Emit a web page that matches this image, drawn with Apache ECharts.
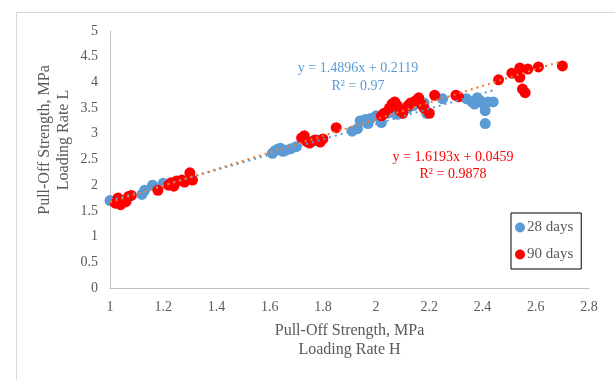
<!DOCTYPE html>
<html>
<head>
<meta charset="utf-8">
<script src="https://cdn.jsdelivr.net/npm/echarts@6/dist/echarts.min.js"></script>
<style>
  html, body { margin: 0; padding: 0; background: #fff; }
  #chart { width: 615px; height: 380px; }
</style>
</head>
<body>
<div id="chart"></div>
<script>
// 28 days: [Loading Rate H, Loading Rate L]
const days28 = [
  [1.00, 1.70], [1.12, 1.82], [1.13, 1.90], [1.16, 2.00], [1.20, 2.04], [1.22, 2.02], [1.24, 2.00],
  [1.61, 2.62], [1.62, 2.67], [1.63, 2.70], [1.64, 2.72], [1.65, 2.66], [1.66, 2.68], [1.68, 2.71],
  [1.70, 2.75], [1.76, 2.85], [1.78, 2.88],
  [1.91, 3.05], [1.93, 3.10], [1.94, 3.25], [1.96, 3.28], [1.97, 3.20], [1.98, 3.30], [2.00, 3.35],
  [2.02, 3.22], [2.04, 3.40], [2.06, 3.42], [2.08, 3.38], [2.12, 3.50], [2.14, 3.55], [2.18, 3.60],
  [2.19, 3.40], [2.25, 3.68],
  [2.34, 3.68], [2.36, 3.62], [2.37, 3.58], [2.38, 3.70], [2.39, 3.65], [2.40, 3.60], [2.42, 3.62],
  [2.44, 3.62], [2.41, 3.45], [2.41, 3.20]
];

// 90 days
const days90 = [
  [1.02, 1.65], [1.03, 1.75], [1.04, 1.62], [1.05, 1.70], [1.06, 1.68], [1.07, 1.78], [1.08, 1.80],
  [1.18, 1.90], [1.22, 2.00], [1.23, 2.05], [1.24, 1.98], [1.25, 2.08], [1.27, 2.10], [1.28, 2.06],
  [1.30, 2.24], [1.31, 2.10],
  [1.72, 2.92], [1.73, 2.96], [1.74, 2.85], [1.75, 2.82], [1.77, 2.88], [1.79, 2.84], [1.80, 2.90],
  [1.85, 3.12],
  [2.02, 3.35], [2.03, 3.40], [2.05, 3.50], [2.06, 3.58], [2.07, 3.62], [2.08, 3.55], [2.09, 3.45],
  [2.10, 3.40], [2.12, 3.55], [2.13, 3.60], [2.15, 3.65], [2.16, 3.70], [2.17, 3.58], [2.18, 3.50],
  [2.20, 3.40], [2.22, 3.75], [2.30, 3.75],
  [2.31, 3.72], [2.46, 4.05], [2.51, 4.18], [2.54, 4.28], [2.54, 4.10], [2.55, 3.87], [2.56, 3.80],
  [2.57, 4.26], [2.61, 4.30], [2.70, 4.32]
];

// linear trendlines (slope, intercept) and x range
const fit28 = [1.4896, 0.2119];
const fit90 = [1.6193, 0.0459];
const range28 = [1.0, 2.44];
const range90 = [1.0, 2.70];
const r2_28 = '0.97';
const r2_90 = '0.9878';

const trend = (fit, range) => range.map(x => [x, fit[0] * x + fit[1]]);

const serif = '"Liberation Serif", "Times New Roman", serif';
const blue = '#5B9BD5';
const red = '#FF0000';
const grey = '#595959';

const chart = echarts.init(document.getElementById('chart'));
chart.setOption({
  animation: false,
  grid: { left: 110, right: 26, top: 31, bottom: 92 },
  xAxis: {
    type: 'value', min: 1, max: 2.8, interval: 0.2,
    name: 'Pull-Off Strength, MPa\nLoading Rate H',
    nameLocation: 'middle', nameGap: 33, nameMoveOverlap: false,
    nameTextStyle: { fontFamily: serif, fontSize: 16, color: grey, lineHeight: 19, verticalAlign: 'top' },
    axisLine: { show: true, onZero: false, lineStyle: { color: '#BFBFBF', width: 1 } },
    axisTick: { show: false },
    splitLine: { show: false },
    axisLabel: { fontFamily: serif, fontSize: 14, color: grey, margin: 12 }
  },
  yAxis: {
    type: 'value', min: 0, max: 5, interval: 0.5,
    axisLine: { show: true, onZero: false, lineStyle: { color: '#BFBFBF', width: 1 } },
    axisTick: { show: false },
    splitLine: { show: false },
    axisLabel: { fontFamily: serif, fontSize: 14, color: grey, margin: 12 }
  },
  legend: {
    data: ['28 days', '90 days'],
    orient: 'vertical', left: 511, top: 213,
    borderColor: '#000', borderWidth: 1,
    padding: [7, 8, 7, 4], itemGap: 12,
    icon: 'circle', itemWidth: 10, itemHeight: 10,
    textStyle: { fontFamily: serif, fontSize: 15, color: grey, padding: [0, 0, 0, -3] }
  },
  graphic: [
    { type: 'rect', left: 14, top: 10, shape: { width: 700, height: 500 },
      style: { fill: 'none', stroke: '#D9D9D9', lineWidth: 1 }, silent: true },
    // y axis title (placed by hand, off-centre like the original)
    { type: 'text', x: 54, y: 140, rotation: Math.PI / 2,
      style: { text: 'Pull-Off Strength, MPa\nLoading Rate L', fill: grey, font: '16px ' + serif,
        lineHeight: 19, textAlign: 'center', textVerticalAlign: 'middle' } },
    { type: 'text', x: 358, y: 68, style: { text: 'y = 1.4896x + 0.2119', fill: blue, font: '14px ' + serif, textAlign: 'center', textVerticalAlign: 'middle' } },
    { type: 'text', x: 358, y: 86, style: { text: 'R² = ' + r2_28, fill: blue, font: '14px ' + serif, textAlign: 'center', textVerticalAlign: 'middle' } },
    { type: 'text', x: 453, y: 157, style: { text: 'y = 1.6193x + 0.0459', fill: red, font: '14px ' + serif, textAlign: 'center', textVerticalAlign: 'middle' } },
    { type: 'text', x: 453, y: 174, style: { text: 'R² = ' + r2_90, fill: red, font: '14px ' + serif, textAlign: 'center', textVerticalAlign: 'middle' } }
  ],
  series: [
    {
      name: '28 days', type: 'scatter', data: days28,
      symbolSize: 11, itemStyle: { color: blue, opacity: 1 }, z: 2
    },
    {
      name: '90 days', type: 'scatter', data: days90,
      symbolSize: 11, itemStyle: { color: red, opacity: 1 }, z: 3
    },
    {
      name: 'trend28', type: 'line', data: trend(fit28, range28),
      showSymbol: false, symbol: 'none',
      lineStyle: { color: blue, width: 2, type: [2, 4] }, z: 4
    },
    {
      name: 'trend90', type: 'line', data: trend(fit90, range90),
      showSymbol: false, symbol: 'none',
      lineStyle: { color: '#ED7D31', width: 2, type: [2, 4] }, z: 5
    }
  ]
});
</script>
</body>
</html>
